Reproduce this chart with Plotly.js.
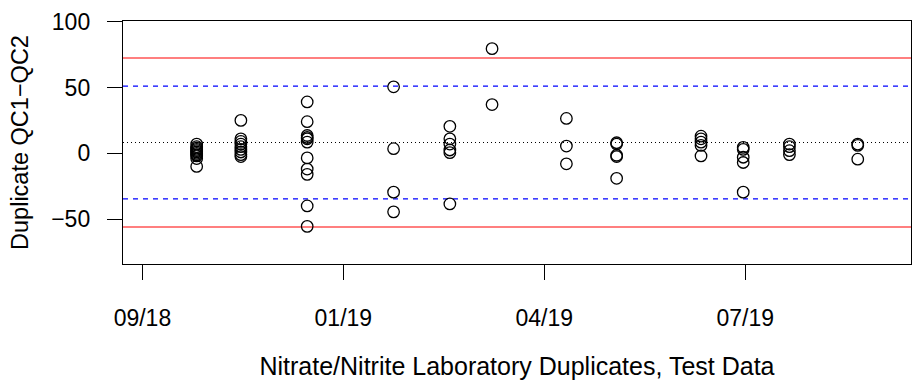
<!DOCTYPE html>
<html>
<head>
<meta charset="utf-8">
<script src="https://cdn.plot.ly/plotly-3.0.1.min.js"></script>
<style>html,body{margin:0;padding:0;background:#fff;}#chart{width:912px;height:381px;}</style>
</head>
<body>
<div id="chart"></div>
<script>
// Sample dates (one per duplicate batch) and the QC1-QC2 differences
const batchDates = ["2018-10-23","2018-11-14","2018-12-17","2019-01-29","2019-02-26","2019-03-19",
                    "2019-04-25","2019-05-20","2019-07-01","2019-07-22","2019-08-14","2019-09-17"];
const batchDiffs = [
  [7, 5, 4, 3, 2, 1, 0, -1, -2, -4, -10],
  [25, 11, 9, 7, 5, 3, 1, -1, -2.5],
  [39, 24, 13.5, 12, 11, 8.5, -3.5, -12, -16, -40, -55.5],
  [50.5, 3.5, -29.5, -44.5],
  [20.5, 11, 7, 2.5, 0.5, -38.5],
  [79.5, 37],
  [26.5, 5.5, -8],
  [8, 7, -1.5, -2.5, -19],
  [13, 11, 8.5, 6, -2],
  [4.5, 3, -3, -7, -29.5],
  [7, 5, 2, -1],
  [7, 6, -4.5]
];
// Reference lines
const centerLine = [8.2];
const warningLimits = [51.0, -34.6];
const controlLimits = [72.4, -56.0];
// Axis ticks
const xTickDates = ["2018-09-26","2019-01-04","2019-04-14","2019-07-23"];
const xTickLabels = ["09/18","01/19","04/19","07/19"];
const yTickVals = [-50, 0, 50, 100];

const xs = [], ys = [];
batchDates.forEach((d, i) => batchDiffs[i].forEach(v => { xs.push(d); ys.push(v); }));

const family = "Liberation Sans, Arial, sans-serif";
const font = {family: family, size: 23, color: "#000"};

const shapes = [];
controlLimits.forEach(v => shapes.push({type:"line", xref:"paper", x0:0, x1:1, yref:"y", y0:v, y1:v,
  line:{color:"#ff0000", width:1.2}, layer:"below"}));
warningLimits.forEach(v => shapes.push({type:"line", xref:"paper", x0:0, x1:1, yref:"y", y0:v, y1:v,
  line:{color:"#0000ff", width:1.2, dash:"5px,5px"}, layer:"below"}));
centerLine.forEach(v => shapes.push({type:"line", xref:"paper", x0:0, x1:1, yref:"y", y0:v, y1:v,
  line:{color:"#000", width:1, dash:"1px,3px"}, layer:"below"}));

const trace = {
  x: xs, y: ys, type: "scatter", mode: "markers",
  marker: {symbol: "circle-open", size: 11.5, color: "#000", line: {color: "#000", width: 1.3}},
  hoverinfo: "skip", showlegend: false
};

const layout = {
  width: 912, height: 381,
  margin: {l: 123, r: 1, t: 21, b: 117, pad: 0},
  paper_bgcolor: "#fff", plot_bgcolor: "#fff",
  font: font,
  showlegend: false,
  xaxis: {
    type: "date",
    range: ["2018-09-16 08:00", "2019-10-13 12:00"],
    tickmode: "array", tickvals: xTickDates, ticktext: xTickLabels,
    ticks: "outside", ticklen: 15, tickwidth: 1, tickcolor: "#000",
    ticklabelstandoff: 18,
    showgrid: false, zeroline: false,
    showline: true, mirror: true, linecolor: "#000", linewidth: 1.2,
    tickfont: font,
    title: {text: "Nitrate/Nitrite Laboratory Duplicates, Test Data", font: {family: family, size: 25, color: "#000"}, standoff: 27}
  },
  yaxis: {
    range: [-84.1, 100.5],
    tickmode: "array", tickvals: yTickVals,
    ticks: "outside", ticklen: 15, tickwidth: 1, tickcolor: "#000",
    ticklabelstandoff: 12,
    showgrid: false, zeroline: false,
    showline: true, mirror: true, linecolor: "#000", linewidth: 1.2,
    tickfont: font,
    title: {text: "Duplicate QC1\u2212QC2", font: {family: family, size: 23.5, color: "#000"}, standoff: 16}
  },
  shapes: shapes
};

Plotly.newPlot("chart", [trace], layout, {staticPlot: true, displayModeBar: false});
</script>
</body>
</html>
